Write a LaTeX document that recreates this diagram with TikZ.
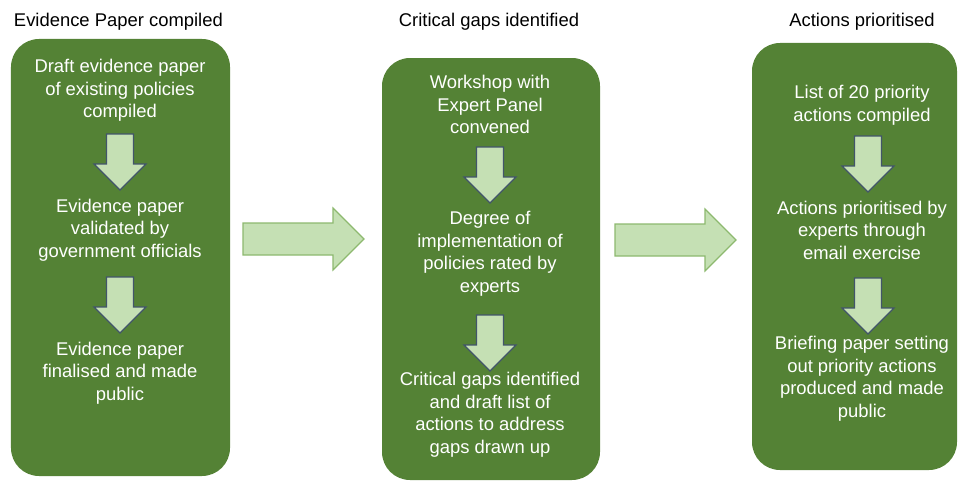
\documentclass[tikz,border=0pt]{standalone}
\usepackage{fontspec}
\setmainfont{Liberation Sans}
\usepackage{tikz}
\definecolor{boxgreen}{HTML}{548235}
\definecolor{lightgreen}{HTML}{C5E0B4}
\definecolor{arrowedge}{HTML}{8DB96F}
\definecolor{slate}{HTML}{42556B}

\begin{document}
\begin{tikzpicture}[
  stagebox/.style={fill=boxgreen, rounded corners=0.7cm},
  boxtext/.style={text=white, align=center, font=\fontsize{13.1}{16.1}\selectfont},
  headtext/.style={anchor=base, font=\fontsize{13.1}{16.1}\selectfont},
  downarr/.pic={\draw[fill=lightgreen, draw=slate, line width=0.8pt]
    (-0.3375,0)--(0.3375,0)--(0.3375,-0.75)--(0.65,-0.75)--(0,-1.4)--(-0.65,-0.75)--(-0.3375,-0.75)--cycle;},
  rightarr/.pic={\draw[fill=lightgreen, draw=arrowedge, line width=0.8pt]
    (0,0.4)--(2.25,0.4)--(2.25,0.775)--(3.025,0)--(2.25,-0.775)--(2.25,-0.4)--(0,-0.4)--cycle;}]
\useasboundingbox (0,0) rectangle (23.975,12.025);

\begin{scope}
\fill[stagebox] (0.275,0.125) rectangle (5.75,11.05);
\node[headtext](H1) at (2.96,11.36){Evidence Paper compiled};
\node[boxtext](A1) at (3,9.76){Draft evidence paper\\of existing policies\\compiled};
\node[boxtext](A2) at (3,6.275){Evidence paper\\validated by\\government officials};
\node[boxtext](A3) at (3,2.7){Evidence paper\\finalised and made\\public};
\pic (D1) at (3,8.675){downarr};
\pic (D2) at (3,5.1){downarr};
\end{scope}

\pic (R1) at (6.075,6.05){rightarr};

\begin{scope}[xshift=9.25cm]
\fill[stagebox] (0.3,0.025) rectangle (5.75,10.575);
\node[headtext](H2) at (2.975,11.36){Critical gaps identified};
\node[boxtext](B1) at (3,9.41){Workshop with\\Expert Panel\\convened};
\node[boxtext](B2) at (3,5.68){Degree of\\implementation of\\policies rated by\\experts};
\node[boxtext](B3) at (3,1.66){Critical gaps identified\\and draft list of\\actions to address\\gaps drawn up};
\pic (E1) at (3,8.35){downarr};
\pic (E2) at (3,4.15){downarr};
\end{scope}

\pic (R2) at (15.375,6.025){rightarr};

\begin{scope}[xshift=18.55cm]
\fill[stagebox] (0.25,0.275) rectangle (5.375,10.95);
\node[headtext](H3) at (3,11.36){Actions prioritised};
\node[boxtext](C1) at (3,9.4){List of 20 priority\\actions compiled};
\node[boxtext](C2) at (3,6.27){Actions prioritised by\\experts through\\email exercise};
\node[boxtext](C3) at (3,2.56){Briefing paper setting\\out priority actions\\produced and made\\public};
\pic (F1) at (3.15,8.625){downarr};
\pic (F2) at (3.15,5.075){downarr};
\end{scope}
\end{tikzpicture}
\end{document}
